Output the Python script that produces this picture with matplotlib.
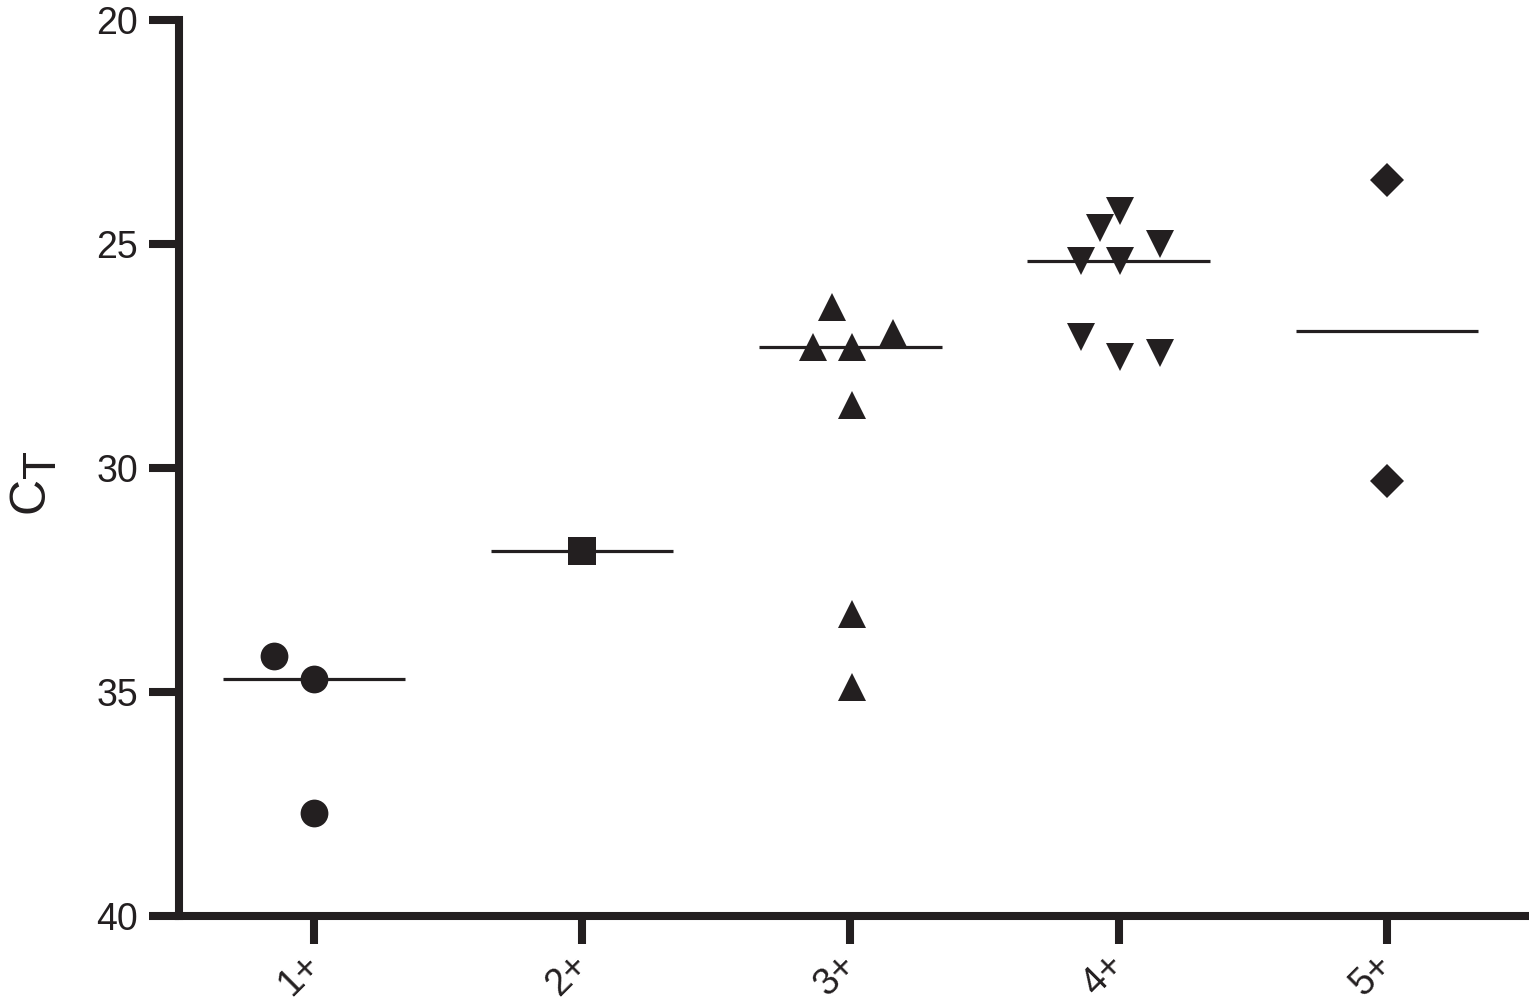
import numpy as np
import matplotlib
matplotlib.use("Agg")
import matplotlib.pyplot as plt

plt.rcParams['font.family'] = ['Liberation Sans', 'DejaVu Sans']

# ---- data ----
categories = ['1+', '2+', '3+', '4+', '5+']
g1_vals = [34.20, 34.72, 37.70]
g2_vals = [31.85]
g3_vals = [26.41, 27.31, 27.31, 27.00, 28.60, 33.27, 34.89]
g4_vals = [24.27, 24.65, 25.01, 25.39, 25.39, 27.08, 27.53, 27.44]
g5_vals = [23.59, 30.29]
# horizontal scatter of points within a group (category units)
g1_dx = [-0.15, 0.0, 0.0]
g2_dx = [0.0]
g3_dx = [-0.067, -0.14, 0.007, 0.16, 0.007, 0.007, 0.007]
g4_dx = [0.007, -0.07, 0.155, -0.14, 0.007, -0.14, 0.007, 0.155]
g5_dx = [0.0, 0.0]
y_ticks = [20, 25, 30, 35, 40]

groups = [g1_vals, g2_vals, g3_vals, g4_vals, g5_vals]
offsets = [g1_dx, g2_dx, g3_dx, g4_dx, g5_dx]
markers = ['o', 's', '^', 'v', 'D']
msizes = [20, 20, 19.5, 19.5, 17.3]

ink = '#231f20'
W, H = 1529, 1007

fig = plt.figure(figsize=(W / 100, H / 100), dpi=100)
ax = fig.add_axes([179 / W, 1 - 916 / H, 1 - 179 / W, (916 - 19.5) / H])

for i, (vals, dx, m, ms) in enumerate(zip(groups, offsets, markers, msizes)):
    pos = i + 1
    xs = [pos + d for d in dx]
    ax.plot(xs, vals, linestyle='none', marker=m, markersize=ms,
            color=ink, markeredgewidth=0, zorder=3)
    med = np.median(vals)
    ax.plot([pos - 0.34, pos + 0.34], [med, med], color=ink, lw=2.3,
            solid_capstyle='butt', zorder=2)

ax.set_xlim(0.497, 5.53)
ax.set_ylim(40, 20)
ax.set_yticks(y_ticks)
ax.set_yticklabels([str(v) for v in y_ticks])
ax.set_xticks(range(1, len(categories) + 1))
ax.set_xticklabels(categories, rotation=45, ha='right', va='center',
                   rotation_mode='anchor')

for s in ['top', 'right']:
    ax.spines[s].set_visible(False)
for s in ['left', 'bottom']:
    ax.spines[s].set_linewidth(5.8)
    ax.spines[s].set_color(ink)
    ax.spines[s].set_capstyle('projecting')

ax.tick_params(axis='both', direction='out', width=5.8, color=ink,
               labelsize=27, labelcolor=ink)
ax.tick_params(axis='y', pad=8, length=21.6)
ax.tick_params(axis='x', pad=11.5, length=20)

# axis title: C with subscript T (drawn as two pieces)
fig.text(43 / W, 1 - 513 / H, 'C', rotation=90, rotation_mode='anchor',
         ha='left', va='baseline', fontsize=36, color=ink)
fig.text(55 / W, 1 - 478 / H, 'T', rotation=90, rotation_mode='anchor',
         ha='left', va='baseline', fontsize=33, color=ink)

fig.savefig('out.png', dpi=100, facecolor='white')
